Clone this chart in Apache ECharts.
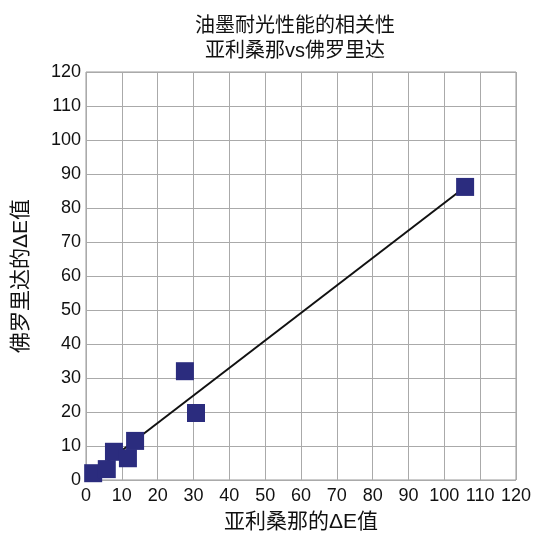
<!DOCTYPE html>
<html><head><meta charset="utf-8">
<script src="https://cdn.jsdelivr.net/npm/echarts@6/dist/echarts.min.js"></script>
<style>html,body{margin:0;padding:0;background:#fff}#c{width:541px;height:537px}</style>
</head><body><div id="c"></div>
<script>
const titleLines = ['油墨耐光性能的相关性', '亚利桑那vs佛罗里达'];
const xName = '亚利桑那的ΔE值';
const yName = '佛罗里达的ΔE值';
const arizona = [2, 5.8, 7.8, 11.7, 13.7, 27.6, 30.7, 105.8];
const florida = [2, 3.2, 8.3, 6.4, 11.5, 32, 19.7, 86.2];
const fitX = [2, 105.8];
const fitY = [2.2, 86.2];

const font = '"Liberation Sans", Arial, "Noto Sans CJK SC", sans-serif';
const chart = echarts.init(document.getElementById('c'));
chart.setOption({
  animation: false,
  title: {
    text: titleLines.join('\n'), left: 290, textAlign: 'center', top: 9,
    textStyle: {fontFamily: font, fontSize: 20, fontWeight: 'normal', color: '#111', lineHeight: 25}
  },
  grid: {left: 86, right: 25, top: 72, bottom: 57, show: true, borderColor: '#999', borderWidth: 1,
         outerBoundsMode: 'none', containLabel: false},
  xAxis: {
    type: 'value', min: 0, max: 120, interval: 10,
    name: xName, nameLocation: 'middle', nameGap: 32,
    nameTextStyle: {fontFamily: font, fontSize: 21, color: '#111'},
    axisLine: {show: false}, axisTick: {show: false},
    axisLabel: {fontFamily: font, fontSize: 18, color: '#111', margin: 7},
    splitLine: {lineStyle: {color: '#aaa', width: 1}}
  },
  yAxis: {
    type: 'value', min: 0, max: 120, interval: 10,
    name: yName, nameLocation: 'middle', nameGap: 54,
    nameTextStyle: {fontFamily: font, fontSize: 21, color: '#111'},
    axisLine: {show: false}, axisTick: {show: false},
    axisLabel: {fontFamily: font, fontSize: 18, color: '#111', margin: 5},
    splitLine: {lineStyle: {color: '#aaa', width: 1}}
  },
  series: [
    {type: 'line', data: fitX.map((x, i) => [x, fitY[i]]), symbol: 'none',
     lineStyle: {color: '#111', width: 2}, z: 2},
    {type: 'scatter', data: arizona.map((x, i) => [x, florida[i]]), symbol: 'rect', symbolSize: 18,
     itemStyle: {color: '#2b2c7e', opacity: 1}, z: 3}
  ]
});
</script></body></html>
